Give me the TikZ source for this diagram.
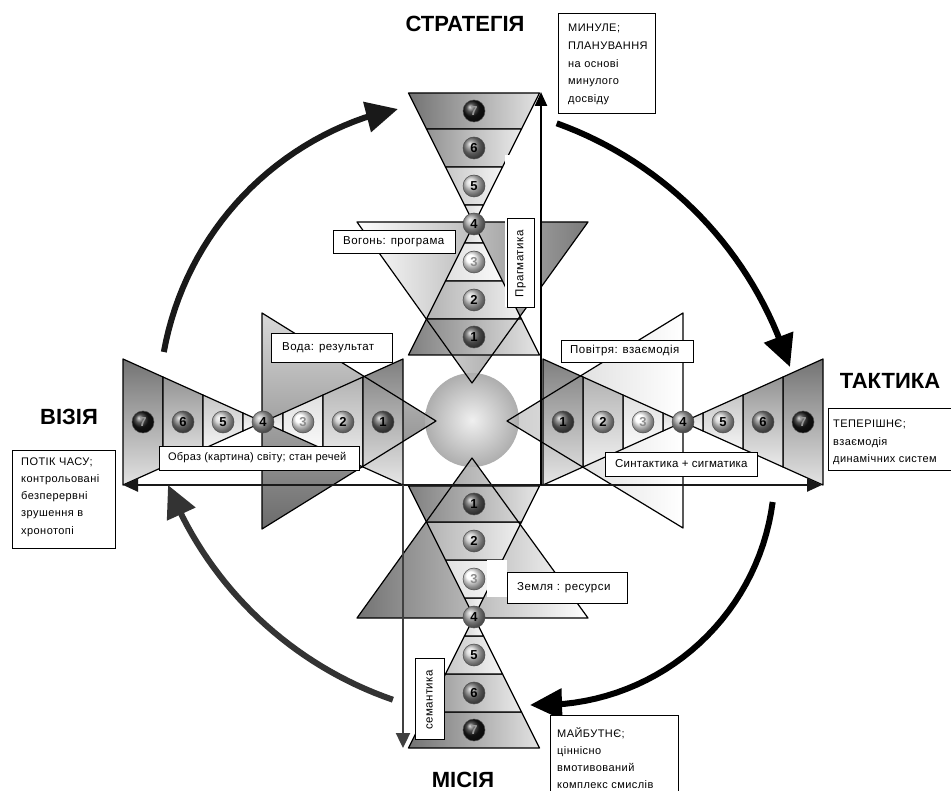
\documentclass[tikz,border=0pt]{standalone}
\usepackage{fontspec}
\setmainfont{Liberation Sans}
\newfontfamily\lblfont[LetterSpace=4]{Liberation Sans}
\newfontfamily\lblfontn[LetterSpace=2]{Liberation Sans}
\usetikzlibrary{arrows.meta}
\newcommand\hp[2]{({\hgx+(\hgux)*(#1)+(\hgvx)*(#2)},{\hgy+(\hguy)*(#1)+(\hgvy)*(#2)})}
\newcommand\hourglass[1]{%
  \foreach \sa/\sb/\d in {-\hgL/-\hgC/55, -\hgC/-\hgB/42, -\hgB/-\hgA/22, -\hgA/0/15, 0/\hgA/15, \hgA/\hgB/12, \hgB/\hgC/30, \hgC/\hgL/50}{
    \pgfmathsetmacro\wa{\hgk*abs(\sa)}
    \pgfmathsetmacro\wb{\hgk*abs(\sb)}
    \pgfmathtruncatemacro\dl{\d/5}
    \shadedraw[hgline, top color=black!\d, bottom color=black!\dl, shading angle=#1]
      \hp{\sa}{\wa} -- \hp{\sb}{\wb} -- \hp{\sb}{-\wb} -- \hp{\sa}{-\wa} -- cycle;
  }}
\newcommand\hgballs[4]{%
  \foreach \s/\n/\bc/\tc in {-#4/7/black!90/black!40, -#3/6/black!50/black, -#2/5/black!18/black, 0/4/black!35/black, #2/3/white/black!45, #3/2/black!22/black, #4/1/black!60/black}{
    \node[ballbase, ball color=\bc, text=\tc] (#1\n) at \hp{\s}{0} {\n};
  }}
\begin{document}
\begin{tikzpicture}[x=1pt,y=-1pt,
  hgline/.style={draw=black, line width=1.2pt, line join=round},
  elline/.style={draw=black, line width=1.2pt, line join=round},
  box/.style={draw=black, line width=0.8pt, fill=white, inner sep=0pt},
  txt/.style={font=\lblfont\fontsize{11.5}{13}\selectfont, inner sep=0pt},
  info/.style={font=\lblfont\fontsize{11}{13}\selectfont, anchor=base west, inner sep=0pt},
  title/.style={font=\bfseries\fontsize{22}{22}\selectfont, inner sep=0pt},
  ballbase/.style={circle, shade, minimum size=22pt, inner sep=0pt, draw=black!70, line width=0.5pt, font=\bfseries\fontsize{13}{13}\selectfont},
  bigarrow/.style={line width=6pt, -{Triangle[length=32pt,width=30pt]}},
  thinarrow/.style={line width=2.4pt},
]
\useasboundingbox (0,0) rectangle (951,791);
\fill[white] (0,0) rectangle (951,791);

% element triangles (fills)
\shade[left color=white, right color=black!52] (357,222) -- (588,222) -- (472,383) -- cycle;
\shade[left color=black!55, right color=white] (357,618) -- (588,618) -- (472,458) -- cycle;
\shade[top color=black!15, bottom color=black!58] (262,313) -- (262,529) -- (436,421) -- cycle;
\shade[left color=black!20, right color=white] (683,313) -- (683,528) -- (507,421) -- cycle;

% central sphere
\shade[inner color=black!6, outer color=black!32] (472,420) circle[radius=47];

% top hourglass
\def\hgx{474}\def\hgy{224}\def\hgux{0}\def\hguy{1}\def\hgvx{1}\def\hgvy{0}
\def\hgk{0.5}\def\hgL{131}\def\hgA{19}\def\hgB{57}\def\hgC{95}
\hourglass{90}
% bottom hourglass
\def\hgx{474}\def\hgy{617}\def\hgux{0}\def\hguy{-1}\def\hgvx{1}\def\hgvy{0}
\hourglass{90}
% left hourglass
\def\hgx{263}\def\hgy{422}\def\hgux{1}\def\hguy{0}\def\hgvx{0}\def\hgvy{1}
\def\hgk{0.45}\def\hgL{140}\def\hgA{20}\def\hgB{60}\def\hgC{100}
\hourglass{0}
% right hourglass
\def\hgx{683}\def\hgy{422}\def\hgux{-1}\def\hguy{0}\def\hgvx{0}\def\hgvy{1}
\hourglass{0}

% element triangles (outlines)
\draw[elline] (357,222) -- (588,222) -- (472,383) -- cycle;
\draw[elline] (357,618) -- (588,618) -- (472,458) -- cycle;
\draw[elline] (262,313) -- (262,529) -- (436,421) -- cycle;
\draw[elline] (683,313) -- (683,528) -- (507,421) -- cycle;

% white patches
\fill[white] (505,155) rectangle (540,307);
\fill[white] (487,560) rectangle (507,597);

% straight arrows
\coordinate (hl) at (123,485);
\coordinate (hr) at (822,485);
\coordinate (vub) at (541,485);
\coordinate (vut) at (541,92);
\coordinate (vdt) at (403,485);
\coordinate (vdb) at (403,748);
\draw[thinarrow, black!90, {Triangle[length=15pt,width=13pt]}-{Triangle[length=15pt,width=13pt]}] (hl) -- (hr);
\draw[thinarrow, black, -{Triangle[length=14pt,width=12pt]}] (vub) -- (vut);
\draw[thinarrow, black!75, -{Triangle[length=15pt,width=14pt]}] (vdt) -- (vdb);

% balls
\def\hgx{474}\def\hgy{224}\def\hgux{0}\def\hguy{1}\def\hgvx{1}\def\hgvy{0}
\hgballs{T}{38}{76}{113}
\def\hgx{474}\def\hgy{617}\def\hgux{0}\def\hguy{-1}\def\hgvx{1}\def\hgvy{0}
\hgballs{B}{38}{76}{113}
\def\hgx{263}\def\hgy{422}\def\hgux{1}\def\hguy{0}\def\hgvx{0}\def\hgvy{1}
\hgballs{L}{40}{80}{120}
\def\hgx{683}\def\hgy{422}\def\hgux{-1}\def\hguy{0}\def\hgvx{0}\def\hgvy{1}
\hgballs{R}{40}{80}{120}

% label boxes
\node[box, minimum width=122, minimum height=23] (firebox) at (394,241.5) {};
\node[txt, anchor=west] (firetxt) at (343,241.5) {Вогонь: програма};
\node[box, minimum width=121, minimum height=29] (waterbox) at (331.5,347.5) {};
\node[txt, anchor=west] (watertxt) at (282,347.5) {Вода: результат};
\node[box, minimum width=200, minimum height=24] (imagebox) at (259,458) {};
\node[txt, anchor=west, font=\lblfontn\fontsize{11}{13}\selectfont] (imagetxt) at (168,458) {Образ (картина) світу; стан речей};
\node[box, minimum width=132, minimum height=22] (airbox) at (627,351) {};
\node[txt, anchor=west] (airtxt) at (570,351) {Повітря: взаємодія};
\node[box, minimum width=152, minimum height=24] (syntbox) at (681,464) {};
\node[txt, anchor=west, font=\lblfontn\fontsize{11.5}{13}\selectfont] (synttxt) at (615,464) {Синтактика + сигматика};
\node[box, minimum width=120, minimum height=31] (earthbox) at (567,587.5) {};
\node[txt, anchor=west] (earthtxt) at (517,587.5) {Земля : ресурси};
\node[box, rotate=90, minimum width=89, minimum height=27] (pragbox) at (520.5,262.5) {};
\node[txt, rotate=90] (pragtxt) at (520.5,264) {Прагматика};
\node[box, rotate=90, minimum width=81, minimum height=29] (sembox) at (429.5,698.5) {};
\node[txt, rotate=90] (semtxt) at (429.5,700) {семантика};

% big circular arrows
\coordinate (tipTL) at (398,109);
\coordinate (tipTR) at (790,367);
\coordinate (tipBR) at (530,705);
\coordinate (tipBL) at (168,485);
\draw[bigarrow, black!90] plot[domain=-169.8:-109, samples=30] ({464+305*cos(\x)},{406+305*sin(\x)}) -- (tipTL);
\draw[bigarrow, black] plot[domain=-70.2:-22.5, samples=30] ({429+377*cos(\x)},{478+377*sin(\x)}) -- (tipTR);
\draw[bigarrow, black] plot[domain=7.4:84.5, samples=30] ({541.6+233*cos(\x)},{472+233*sin(\x)}) -- (tipBR);
\draw[bigarrow, black!80] plot[domain=109:153, samples=30] ({514+372*cos(\x)},{348+372*sin(\x)}) -- (tipBL);

% titles
\node[title] (strat) at (465,24) {СТРАТЕГІЯ};
\node[title] (takt) at (890,381) {ТАКТИКА};
\node[title] (viz) at (69,417) {ВІЗІЯ};
\node[title] (mis) at (463,780) {МІСІЯ};

% info boxes
\draw[box] (558,13) rectangle (655,113);
\foreach \t [count=\i] in {МИНУЛЕ;, ПЛАНУВАННЯ, на основі, минулого, досвіду}
  \node[info] (past\i) at (568,{32+17.6*(\i-1)}) {\t};
\draw[box] (828,408) rectangle (960,470);
\foreach \t [count=\i] in {ТЕПЕРІШНЄ;, взаємодія, динамічних систем}
  \node[info] (pres\i) at (833,{428+17.5*(\i-1)}) {\t};
\draw[box] (12,450) rectangle (115,548);
\foreach \t [count=\i] in {ПОТІК ЧАСУ;, контрольовані, безперервні, зрушення в, хронотопі}
  \node[info] (time\i) at (21,{466+17*(\i-1)}) {\t};
\draw[box] (550,715) rectangle (678,800);
\foreach \t [count=\i] in {МАЙБУТНЄ;, ціннісно, вмотивований, комплекс смислів}
  \node[info] (fut\i) at (557,{737+17*(\i-1)}) {\t};
\end{tikzpicture}
\end{document}
